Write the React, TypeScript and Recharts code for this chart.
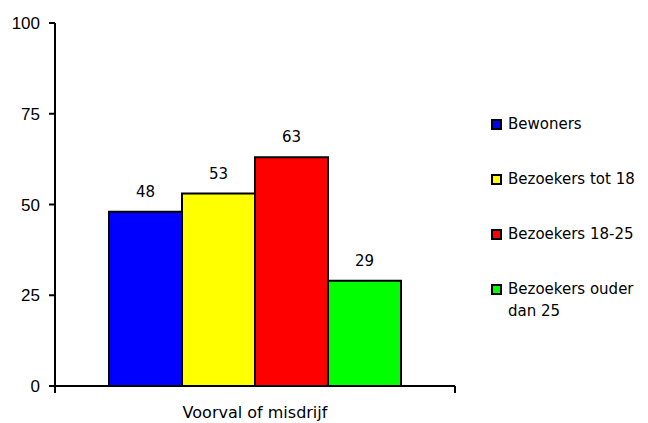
import React from 'react';
import { BarChart, Bar, XAxis, YAxis, Legend, LabelList } from 'recharts';

const categories = ['Voorval of misdrijf'];
const seriesNames = ['Bewoners', 'Bezoekers tot 18', 'Bezoekers 18-25', 'Bezoekers ouder dan 25'];
const seriesValues = [48, 53, 63, 29];
const seriesColors = ['#0000ff', '#ffff00', '#ff0000', '#00ff00'];
const yTicks = [0, 25, 50, 75, 100];

const WIDTH = 648;
const HEIGHT = 423;
const LEGEND_W = 157;
// the legend box is added to the right offset by recharts
const MARGIN = { top: 23, right: 193 - LEGEND_W, bottom: 0, left: 0 };
const Y_AXIS_W = 55;
const PLOT_W = 400;

const labelFont = '"DejaVu Sans", sans-serif';

const data = categories.map((name) => {
    const row: { [key: string]: string | number } = { name };
    seriesValues.forEach((v, i) => {
        row[`s${i}`] = v;
    });
    return row;
});

const CategoryTick = (props: any) => {
    const { x, y, payload } = props;
    const half = PLOT_W / categories.length / 2;
    return (
        <g>
            <line x1={x - half} y1={y} x2={x - half} y2={y + 7} stroke="#000" strokeWidth={2} />
            <line x1={x + half} y1={y} x2={x + half} y2={y + 7} stroke="#000" strokeWidth={2} />
            <text x={x} y={y + 32} textAnchor="middle" fontFamily={labelFont} fontSize={16} fill="#000">
                {payload.value}
            </text>
        </g>
    );
};

const LegendContent = () => (
    <div style={{ fontFamily: labelFont, fontSize: 15, color: '#000' }}>
        {seriesNames.map((name, i) => (
            <div key={name} style={{ display: 'flex', alignItems: 'flex-start', marginBottom: 33 }}>
                <div
                    style={{
                        width: 11,
                        height: 11,
                        marginTop: 6,
                        marginRight: 6,
                        background: seriesColors[i],
                        border: '2px solid #000',
                        boxSizing: 'border-box',
                        flexShrink: 0,
                    }}
                />
                <div style={{ lineHeight: '22px', width: 140 }}>{name}</div>
            </div>
        ))}
    </div>
);

export default function App() {
    return (
        <div style={{ position: 'absolute', left: 0, top: 0, width: WIDTH, height: HEIGHT, background: '#fff' }}>
            <BarChart
                width={WIDTH}
                height={HEIGHT}
                data={data}
                margin={MARGIN}
                barCategoryGap="13.5%"
                barGap={0}
            >
                <XAxis
                    dataKey="name"
                    height={37}
                    axisLine={{ stroke: '#000', strokeWidth: 2 }}
                    tickLine={false}
                    tickSize={0}
                    tickMargin={0}
                    tick={<CategoryTick />}
                    interval={0}
                />
                <YAxis
                    width={Y_AXIS_W}
                    domain={[0, 100]}
                    ticks={yTicks}
                    interval={0}
                    axisLine={{ stroke: '#000', strokeWidth: 2 }}
                    tickLine={{ stroke: '#000', strokeWidth: 2 }}
                    tickSize={6}
                    tickMargin={9}
                    tick={{ fill: '#000', fontSize: 17, fontFamily: '"Liberation Sans", Arial, sans-serif' }}
                />
                <Legend
                    layout="vertical"
                    verticalAlign="middle"
                    align="right"
                    content={<LegendContent />}
                    wrapperStyle={{ left: 491, top: 113, width: LEGEND_W }}
                />
                {seriesNames.map((name, i) => (
                    <Bar
                        key={name}
                        dataKey={`s${i}`}
                        name={name}
                        fill={seriesColors[i]}
                        stroke="#000"
                        strokeWidth={2}
                        isAnimationActive={false}
                    >
                        <LabelList
                            dataKey={`s${i}`}
                            position="top"
                            offset={15}
                            fill="#000"
                            fontSize={15}
                            fontFamily={labelFont}
                        />
                    </Bar>
                ))}
            </BarChart>
        </div>
    );
}
